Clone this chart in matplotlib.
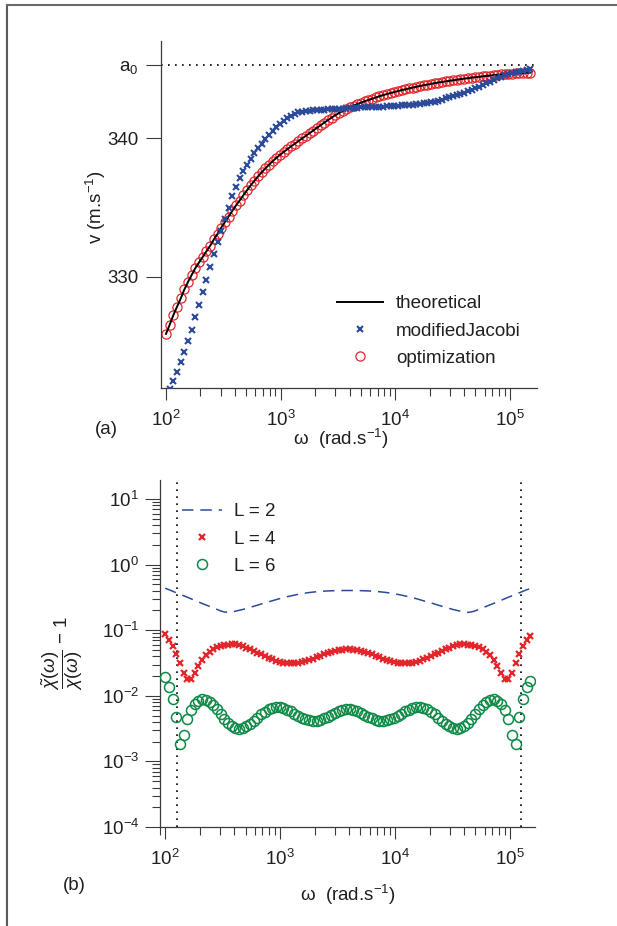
import numpy as np
import matplotlib
matplotlib.use("Agg")
import matplotlib.pyplot as plt
from matplotlib.lines import Line2D
from matplotlib.ticker import FixedLocator, LogLocator, NullFormatter

plt.rcParams['font.family'] = ['Liberation Sans', 'DejaVu Sans']
plt.rcParams['mathtext.fontset'] = 'custom'
plt.rcParams['mathtext.rm'] = 'Liberation Sans'
plt.rcParams['mathtext.it'] = 'Liberation Sans:italic'
plt.rcParams['mathtext.bf'] = 'Liberation Sans:bold'

# ---------------- data ----------------
omega = np.logspace(2.0, 5.178, 100)  # sampled angular frequencies (rad/s)

a0 = 345.25
v_theoretical = [
    325.90, 326.55, 327.25, 327.85, 328.45, 329.10, 329.65, 330.15, 330.65, 331.05,
    331.45, 331.85, 332.25, 332.70, 333.10, 333.55, 333.95, 334.35, 334.75, 335.15,
    335.50, 335.88, 336.24, 336.59, 336.92, 337.24, 337.54, 337.82, 338.09, 338.34,
    338.58, 338.80, 339.01, 339.21, 339.41, 339.60, 339.79, 339.98, 340.17, 340.36,
    340.55, 340.74, 340.93, 341.12, 341.30, 341.48, 341.65, 341.81, 341.96, 342.10,
    342.23, 342.35, 342.46, 342.56, 342.66, 342.75, 342.84, 342.93, 343.02, 343.10,
    343.18, 343.25, 343.32, 343.39, 343.46, 343.52, 343.58, 343.64, 343.70, 343.76,
    343.81, 343.86, 343.91, 343.96, 344.01, 344.05, 344.09, 344.13, 344.17, 344.21,
    344.25, 344.29, 344.32, 344.36, 344.39, 344.42, 344.45, 344.48, 344.51, 344.54,
    344.56, 344.59, 344.61, 344.63, 344.65, 344.67, 344.69, 344.70, 344.71, 344.72]
v_optimization = list(v_theoretical)
v_jacobi = [
    321.30, 321.90, 322.50, 323.15, 323.85, 324.60, 325.40, 326.20, 327.10, 328.00,
    328.90, 329.80, 330.75, 331.65, 332.50, 333.30, 334.20, 335.00, 335.80, 336.50,
    337.10, 337.60, 338.10, 338.50, 338.90, 339.30, 339.60, 339.95, 340.25, 340.55,
    340.80, 341.05, 341.25, 341.45, 341.60, 341.75, 341.85, 341.90, 341.95, 341.98,
    342.00, 342.02, 342.04, 342.06, 342.08, 342.09, 342.10, 342.12, 342.13, 342.15,
    342.16, 342.18, 342.20, 342.21, 342.23, 342.24, 342.25, 342.26, 342.27, 342.28,
    342.30, 342.31, 342.33, 342.34, 342.36, 342.38, 342.40, 342.42, 342.45, 342.48,
    342.51, 342.54, 342.58, 342.63, 342.70, 342.78, 342.87, 342.96, 343.04, 343.12,
    343.20, 343.28, 343.37, 343.48, 343.60, 343.72, 343.84, 343.96, 344.08, 344.20,
    344.31, 344.42, 344.52, 344.60, 344.67, 344.74, 344.80, 344.86, 344.92, 344.98]

err_L2 = [
    0.437, 0.414, 0.393, 0.372, 0.353, 0.335, 0.318, 0.301, 0.285, 0.270,
    0.256, 0.243, 0.231, 0.219, 0.208, 0.197, 0.190, 0.187, 0.190, 0.195,
    0.201, 0.207, 0.215, 0.223, 0.232, 0.241, 0.251, 0.261, 0.271, 0.281,
    0.292, 0.303, 0.313, 0.324, 0.333, 0.343, 0.352, 0.361, 0.368, 0.375,
    0.381, 0.386, 0.391, 0.394, 0.397, 0.399, 0.401, 0.402, 0.403, 0.403,
    0.403, 0.403, 0.402, 0.401, 0.399, 0.397, 0.394, 0.391, 0.386, 0.381,
    0.375, 0.368, 0.361, 0.352, 0.343, 0.333, 0.324, 0.313, 0.303, 0.292,
    0.281, 0.271, 0.261, 0.251, 0.241, 0.232, 0.223, 0.215, 0.207, 0.201,
    0.195, 0.190, 0.187, 0.190, 0.197, 0.208, 0.219, 0.231, 0.243, 0.256,
    0.270, 0.285, 0.301, 0.318, 0.335, 0.353, 0.372, 0.393, 0.414, 0.430]
err_L4 = [
    0.0871, 0.0708, 0.0575, 0.0437, 0.0316, 0.0224, 0.0178, 0.0178, 0.0219, 0.0282,
    0.0355, 0.0412, 0.0468, 0.0513, 0.0547, 0.0571, 0.0592, 0.0605, 0.0614, 0.0611,
    0.0589, 0.0570, 0.0545, 0.0516, 0.0486, 0.0457, 0.0429, 0.0402, 0.0378, 0.0358,
    0.0341, 0.0329, 0.0320, 0.0314, 0.0313, 0.0315, 0.0319, 0.0327, 0.0339, 0.0352,
    0.0368, 0.0386, 0.0406, 0.0427, 0.0448, 0.0466, 0.0483, 0.0498, 0.0507, 0.0513,
    0.0513, 0.0507, 0.0498, 0.0483, 0.0466, 0.0448, 0.0427, 0.0406, 0.0386, 0.0368,
    0.0352, 0.0339, 0.0327, 0.0319, 0.0315, 0.0313, 0.0314, 0.0320, 0.0329, 0.0341,
    0.0358, 0.0378, 0.0402, 0.0429, 0.0457, 0.0486, 0.0516, 0.0545, 0.0570, 0.0589,
    0.0611, 0.0614, 0.0605, 0.0592, 0.0571, 0.0547, 0.0513, 0.0468, 0.0412, 0.0355,
    0.0282, 0.0219, 0.0178, 0.0178, 0.0224, 0.0316, 0.0437, 0.0575, 0.0708, 0.0820]
err_L6 = [
    0.0195, 0.0138, 0.00891, 0.00479, 0.00182, 0.00251, 0.00437, 0.00603, 0.00759, 0.00841,
    0.00881, 0.00869, 0.00813, 0.00728, 0.00628, 0.00530, 0.00449, 0.00387, 0.00345, 0.00322,
    0.00316, 0.00324, 0.00343, 0.00372, 0.00412, 0.00463, 0.00520, 0.00574, 0.00624, 0.00661,
    0.00676, 0.00671, 0.00650, 0.00618, 0.00579, 0.00537, 0.00498, 0.00466, 0.00440, 0.00424,
    0.00417, 0.00420, 0.00433, 0.00454, 0.00482, 0.00515, 0.00551, 0.00582, 0.00607, 0.00621,
    0.00621, 0.00607, 0.00582, 0.00551, 0.00515, 0.00482, 0.00454, 0.00433, 0.00420, 0.00417,
    0.00424, 0.00440, 0.00466, 0.00498, 0.00537, 0.00579, 0.00618, 0.00650, 0.00671, 0.00676,
    0.00661, 0.00624, 0.00574, 0.00520, 0.00463, 0.00412, 0.00372, 0.00343, 0.00324, 0.00316,
    0.00322, 0.00345, 0.00387, 0.00449, 0.00530, 0.00628, 0.00728, 0.00813, 0.00869, 0.00881,
    0.00841, 0.00759, 0.00603, 0.00437, 0.00251, 0.00182, 0.00479, 0.00891, 0.0138, 0.0170]
band_limits = [126, 1.24e5]

# ---------------- styling ----------------
TXT = '#231f20'
AXC = '#3a3a3a'
BLUE = '#2b4a9a'
RED = '#e2262b'
GREEN = '#0d8a45'
FS = 13.5

fig = plt.figure(figsize=(6.17, 9.26), dpi=100)
W, H = 617.0, 926.0

def ax_rect(x0, y0, x1, y1):
    return [x0 / W, 1 - y1 / H, (x1 - x0) / W, (y1 - y0) / H]

def style_axes(ax):
    for s in ['top', 'right']:
        ax.spines[s].set_visible(False)
    for s in ['left', 'bottom']:
        ax.spines[s].set_color(AXC)
        ax.spines[s].set_linewidth(0.9)
    ax.tick_params(which='both', direction='out', colors=AXC, labelcolor=TXT,
                   labelsize=FS, width=0.8)
    ax.tick_params(which='major', length=8.5)
    ax.tick_params(which='minor', length=6)

# ---------------- panel (a) ----------------
ax1 = fig.add_axes(ax_rect(161, 41, 537, 388))
style_axes(ax1)
ax1.set_xscale('log')
ax1.set_xlim(90.5, 1.72e5)
ax1.set_ylim(322, 347)
ax1.axhline(a0, color='black', lw=1.2, ls=(0, (1, 3.2)), zorder=1)
ax1.plot(omega, v_optimization, ls='none', marker='o', ms=6.6, mfc='none',
         mec=RED, mew=0.9, label='optimization', zorder=2)
ax1.plot(omega, v_theoretical, color='black', lw=1.4, label='theoretical', zorder=3)
ax1.plot(omega, v_jacobi, ls='none', marker='x', ms=4.0, mec=BLUE, mew=1.5,
         label='modifiedJacobi', zorder=4)
ax1.yaxis.set_major_locator(FixedLocator([330, 340, a0]))
ax1.set_yticklabels(['330', '340', r'a$_0$'])
ax1.xaxis.set_major_locator(LogLocator(base=10, numticks=10))
ax1.xaxis.set_minor_locator(LogLocator(base=10, subs=np.arange(2, 10), numticks=20))
ax1.xaxis.set_minor_formatter(NullFormatter())
ax1.tick_params(axis='x', which='major', pad=7)
ax1.tick_params(axis='y', which='major', pad=5, length=11)
ax1.set_ylabel(r'v (m.s$^{-1}$)', fontsize=FS, color=TXT)
ax1.yaxis.set_label_coords(-0.142, 0.522)
ax1.set_xlabel(r'ω  (rad.s$^{-1}$)', fontsize=FS, color=TXT)
ax1.xaxis.set_label_coords(0.479, -0.112)
h = ax1.get_legend_handles_labels()
order = ['theoretical', 'modifiedJacobi', 'optimization']
hd = dict(zip(h[1], h[0]))
ax1.legend([hd[o] for o in order], order, loc='upper left', frameon=False,
           fontsize=FS, bbox_to_anchor=(337 / W, 1 - 295 / H),
           bbox_transform=fig.transFigure, borderpad=0, borderaxespad=0,
           handlelength=2.45, handletextpad=0.7, labelspacing=0.55,
           labelcolor=TXT)

# ---------------- panel (b) ----------------
ax2 = fig.add_axes(ax_rect(160, 480, 535, 827))
style_axes(ax2)
ax2.set_xscale('log')
ax2.set_yscale('log')
ax2.set_xlim(90, 1.65e5)
ax2.set_ylim(1e-4, 10 ** 1.29)
for b in band_limits:
    ax2.axvline(b, color='black', lw=1.2, ls=(0, (1, 3.2)), zorder=1)
ax2.plot(omega, err_L2, color=BLUE, lw=1.1, ls=(0, (7.5, 4.5)), label='L = 2', zorder=2)
ax2.plot(omega, err_L4, ls='none', marker='x', ms=4.6, mec=RED, mew=1.6,
         label='L = 4', zorder=3)
ax2.plot(omega, err_L6, ls='none', marker='o', ms=7.2, mfc='none', mec=GREEN,
         mew=1.1, label='L = 6', zorder=3)
ax2.yaxis.set_major_locator(LogLocator(base=10, numticks=12))
ax2.yaxis.set_minor_locator(LogLocator(base=10, subs=np.arange(2, 10), numticks=40))
ax2.yaxis.set_minor_formatter(NullFormatter())
ax2.xaxis.set_major_locator(LogLocator(base=10, numticks=10))
ax2.xaxis.set_minor_locator(LogLocator(base=10, subs=np.arange(2, 10), numticks=20))
ax2.xaxis.set_minor_formatter(NullFormatter())
ax2.tick_params(axis='x', which='major', pad=7)
ax2.tick_params(axis='y', which='major', pad=4, length=11)
ax2.set_ylabel(r'$\dfrac{\tilde{\chi}(\omega)}{\chi(\omega)}$ $-$ 1', fontsize=FS, color=TXT)
ax2.yaxis.set_label_coords(-0.2, 0.5)
ax2.set_xlabel(r'ω  (rad.s$^{-1}$)', fontsize=FS, color=TXT)
ax2.xaxis.set_label_coords(0.5, -0.16)
ax2.legend(loc='upper left', frameon=False, fontsize=FS,
           bbox_to_anchor=(182 / W, 1 - 503 / H), bbox_transform=fig.transFigure,
           borderpad=0, borderaxespad=0, handlelength=2.15, handletextpad=0.65,
           labelspacing=0.55, labelcolor=TXT)

# panel tags
fig.text(95 / W, 1 - 430 / H, '(a)', fontsize=FS, color=TXT, ha='left', va='center')
fig.text(63 / W, 1 - 886 / H, '(b)', fontsize=FS, color=TXT, ha='left', va='center')

# page frame lines
fig.add_artist(Line2D([6.5 / W, 6.5 / W], [0, 1 - 5 / H], transform=fig.transFigure,
                      color='#5a5a5a', lw=1.5))
fig.add_artist(Line2D([6.5 / W, 1], [1 - 5 / H, 1 - 5 / H], transform=fig.transFigure,
                      color='#6a6a6a', lw=1.5))

fig.savefig('out.png', dpi=100)
